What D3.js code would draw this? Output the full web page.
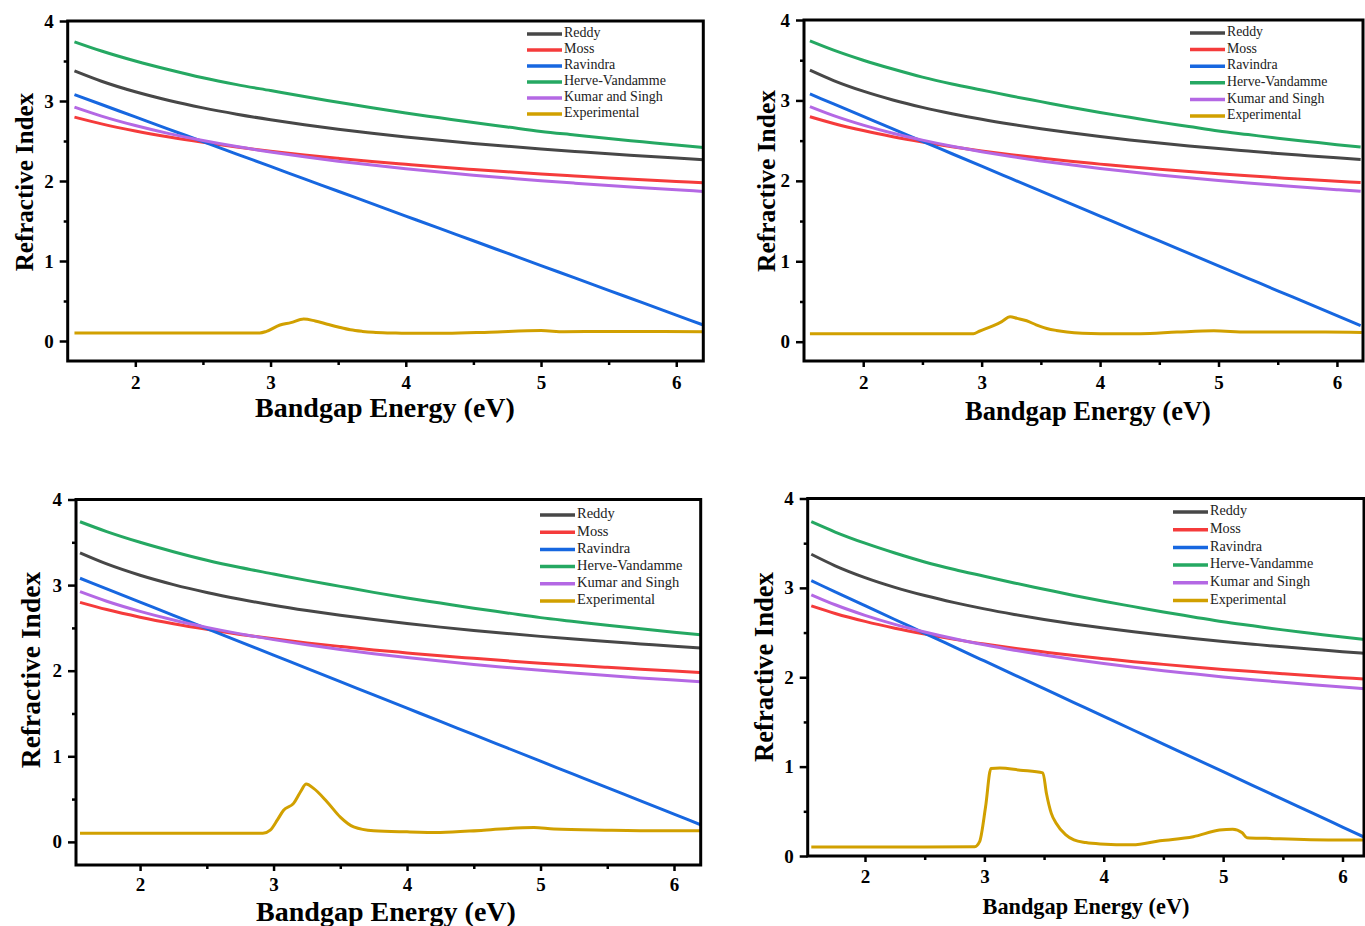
<!DOCTYPE html>
<meta charset="utf-8">
<style>
    html, body { margin: 0; padding: 0; background: #fff; }
    svg text { font-family: "Liberation Serif", "Times New Roman", serif; }
</style>
<script src="https://d3js.org/d3.v7.min.js"></script>

<div id="chart"></div>

<script>

    // photon energy grid used for the model curves (eV)
    const energy = [1.55, 1.75, 2, 2.25, 2.5, 2.75, 3, 3.25, 3.5, 3.75, 4, 4.25, 4.5, 4.75, 5, 5.25, 5.5, 5.75, 6, 6.2];

    // model refractive indices
    const reddy    = [3.376, 3.247, 3.115, 3.006, 2.914, 2.835, 2.765, 2.703, 2.647, 2.597, 2.551, 2.509, 2.470, 2.434, 2.401, 2.370, 2.340, 2.313, 2.286, 2.266];
    const moss     = [2.798, 2.714, 2.625, 2.549, 2.483, 2.424, 2.372, 2.325, 2.283, 2.243, 2.208, 2.174, 2.144, 2.115, 2.088, 2.063, 2.039, 2.016, 1.995, 1.978];
    const ravindra = [3.08, 2.956, 2.801, 2.646, 2.492, 2.337, 2.182, 2.027, 1.872, 1.717, 1.562, 1.407, 1.253, 1.098, 0.943, 0.788, 0.633, 0.479, 0.324, 0.20];
    const herve    = [3.74, 3.625, 3.50, 3.39, 3.29, 3.205, 3.13, 3.055, 2.985, 2.915, 2.85, 2.79, 2.73, 2.675, 2.62, 2.575, 2.53, 2.49, 2.45, 2.42];
    const kumar    = [2.923, 2.811, 2.693, 2.592, 2.506, 2.430, 2.363, 2.303, 2.248, 2.199, 2.154, 2.112, 2.073, 2.038, 2.004, 1.973, 1.944, 1.916, 1.890, 1.870];

    // experimental curves, one per panel
    const expE1 = [1.55, 2.0, 2.5, 2.92, 2.97, 3.07, 3.15, 3.245, 3.33, 3.42, 3.5, 3.59, 3.68, 3.76, 3.9, 4.0, 4.3, 4.62, 5.0, 5.17, 5.49, 5.8, 6.2];
    const expN1 = [0.10, 0.10, 0.10, 0.10, 0.12, 0.20, 0.23, 0.275, 0.25, 0.21, 0.175, 0.14, 0.12, 0.108, 0.10, 0.096, 0.096, 0.11, 0.13, 0.115, 0.12, 0.12, 0.115];

    const expE2 = [1.55, 2.0, 2.5, 2.93, 2.98, 3.1, 3.17, 3.24, 3.3, 3.38, 3.46, 3.55, 3.63, 3.72, 3.85, 4.0, 4.34, 4.65, 4.96, 5.24, 5.63, 5.9, 6.21];
    const expN2 = [0.10, 0.10, 0.10, 0.10, 0.13, 0.20, 0.25, 0.31, 0.29, 0.26, 0.21, 0.165, 0.14, 0.12, 0.105, 0.10, 0.10, 0.12, 0.135, 0.12, 0.12, 0.12, 0.115];

    const expE3 = [1.55, 2.0, 2.5, 2.92, 2.975, 3.03, 3.075, 3.15, 3.2, 3.245, 3.3, 3.4, 3.5, 3.6, 3.75, 4.0, 4.25, 4.575, 4.95, 5.1, 5.5, 5.9, 6.2];
    const expN3 = [0.10, 0.10, 0.10, 0.10, 0.137, 0.26, 0.37, 0.45, 0.58, 0.675, 0.625, 0.47, 0.29, 0.175, 0.13, 0.117, 0.11, 0.137, 0.168, 0.15, 0.137, 0.13, 0.13];

    const expE4 = [1.55, 2.0, 2.5, 2.92, 2.96, 3.01, 3.055, 3.13, 3.3, 3.49, 3.52, 3.56, 3.6, 3.68, 3.75, 3.85, 3.97, 4.24, 4.47, 4.75, 4.97, 5.08, 5.16, 5.2, 5.36, 5.92, 6.2];
    const expN4 = [0.10, 0.10, 0.10, 0.104, 0.16, 0.55, 0.98, 0.985, 0.96, 0.93, 0.70, 0.48, 0.37, 0.24, 0.18, 0.15, 0.135, 0.125, 0.17, 0.216, 0.29, 0.30, 0.26, 0.205, 0.198, 0.18, 0.18];

    const xTicks = [2, 3, 4, 5, 6];
    const xMinor = [2.5, 3.5, 4.5, 5.5];
    const yTicks = [0, 1, 2, 3, 4];
    const yMinor = [0.5, 1.5, 2.5, 3.5];

    const seriesNames = ["Reddy", "Moss", "Ravindra", "Herve-Vandamme", "Kumar and Singh", "Experimental"];
    const seriesColors = ["#474747", "#f53b3b", "#1767e0", "#25a862", "#b468e4", "#d1a000"];
    const modelValues = [reddy, moss, ravindra, herve, kumar];
    const expSets = [[expE1, expN1], [expE2, expN2], [expE3, expN3], [expE4, expN4]];

    // plot boxes in page pixels
    const panels = [
        {l: 67.7, t: 21, r: 703.3, b: 361, xd: [1.5, 6.2], yd: [-0.25, 4],
         xt: {x: 385, y: 417, s: 28}, yt: {x: 33, y: 182, s: 25}, lg: {x: 527, y: 34, dy: 16, s: 14}},
        {l: 804, t: 20, r: 1363, b: 361, xd: [1.5, 6.22], yd: [-0.24, 4],
         xt: {x: 1088, y: 420, s: 26.5}, yt: {x: 775, y: 181, s: 25.5}, lg: {x: 1190, y: 33, dy: 16.6, s: 13.8}},
        {l: 76, t: 499.5, r: 700.7, b: 865, xd: [1.52, 6.2], yd: [-0.27, 4],
         xt: {x: 386, y: 921, s: 28}, yt: {x: 40, y: 670, s: 27.5}, lg: {x: 540, y: 515, dy: 17.2, s: 14.5}},
        {l: 807.7, t: 498.5, r: 1364, b: 856, xd: [1.52, 6.18], yd: [0, 4],
         xt: {x: 1086, y: 914, s: 22.3}, yt: {x: 773, y: 667, s: 26.6}, lg: {x: 1173, y: 512, dy: 17.7, s: 14.2}}
    ];
    const xPad = [9, 9, 7, 8];

    const svg = d3.select("#chart")
      .append("svg")
        .attr("width", 1365)
        .attr("height", 926);

    svg.append("rect").attr("width", 1365).attr("height", 926).attr("fill", "#fff");

    panels.forEach(function(p, i) {
        const x = d3.scaleLinear().domain(p.xd).range([p.l, p.r]);
        const y = d3.scaleLinear().domain(p.yd).range([p.b, p.t]);
        const g = svg.append("g");

        g.append("clipPath").attr("id", "clip" + i)
          .append("rect")
            .attr("x", p.l).attr("y", p.t)
            .attr("width", p.r - p.l).attr("height", p.b - p.t);

        const line = d3.line()
            .x(d => x(d[0]))
            .y(d => y(d[1]))
            .curve(d3.curveMonotoneX);

        const plot = g.append("g").attr("clip-path", `url(#clip${i})`);

        // model curves
        modelValues.forEach(function(vals, k) {
            plot.append("path")
                .datum(energy.map((e, j) => [e, vals[j]]))
                .attr("fill", "none")
                .attr("stroke", seriesColors[k])
                .attr("stroke-width", 3)
                .attr("d", line);
        });

        // experimental
        const ex = expSets[i];
        plot.append("path")
            .datum(ex[0].map((e, j) => [e, ex[1][j]]))
            .attr("fill", "none")
            .attr("stroke", seriesColors[5])
            .attr("stroke-width", 3)
            .attr("stroke-linejoin", "round")
            .attr("d", line);

        // axes
        g.append("g")
            .attr("transform", `translate(0,${p.b})`)
            .call(d3.axisBottom(x).tickValues(xTicks).tickSize(6).tickPadding(xPad[i]).tickFormat(d3.format("d")));
        g.append("g")
            .attr("transform", `translate(0,${p.b})`)
            .call(d3.axisBottom(x).tickValues(xMinor).tickSize(4).tickFormat(""));
        g.append("g")
            .attr("transform", `translate(${p.l},0)`)
            .call(d3.axisLeft(y).tickValues(yTicks).tickSize(8).tickPadding(6).tickFormat(d3.format("d")));
        g.append("g")
            .attr("transform", `translate(${p.l},0)`)
            .call(d3.axisLeft(y).tickValues(yMinor).tickSize(4).tickFormat(""));

        g.selectAll(".domain").remove();
        g.selectAll(".tick line").attr("stroke", "#000").attr("stroke-width", 2.5);
        g.selectAll(".tick text")
            .attr("fill", "#000")
            .style("font-size", "19px")
            .style("font-weight", "bold");

        // frame
        g.append("rect")
            .attr("x", p.l).attr("y", p.t)
            .attr("width", p.r - p.l).attr("height", p.b - p.t)
            .attr("fill", "none")
            .attr("stroke", "#000")
            .attr("stroke-width", 3);

        // titles
        g.append("text")
            .attr("x", p.xt.x).attr("y", p.xt.y)
            .attr("text-anchor", "middle")
            .style("font-size", p.xt.s + "px")
            .style("font-weight", "bold")
            .text("Bandgap Energy (eV)");
        g.append("text")
            .attr("transform", `translate(${p.yt.x},${p.yt.y}) rotate(-90)`)
            .attr("text-anchor", "middle")
            .style("font-size", p.yt.s + "px")
            .style("font-weight", "bold")
            .text("Refractive Index");

        // legend
        const lg = g.append("g");
        seriesNames.forEach(function(name, k) {
            const ly = p.lg.y + k * p.lg.dy;
            lg.append("line")
                .attr("x1", p.lg.x).attr("x2", p.lg.x + 35)
                .attr("y1", ly).attr("y2", ly)
                .attr("stroke", seriesColors[k])
                .attr("stroke-width", 3.5);
            lg.append("text")
                .attr("x", p.lg.x + 37).attr("y", ly)
                .attr("dominant-baseline", "middle")
                .style("font-size", p.lg.s + "px")
                .attr("fill", "#222")
                .text(name);
        });
    });

</script>
